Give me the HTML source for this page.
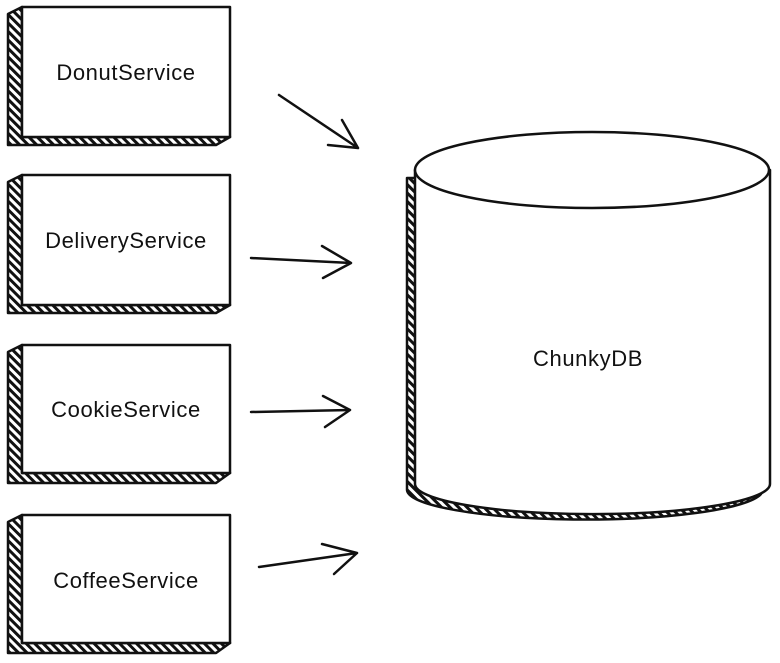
<!DOCTYPE html>
<html><head><meta charset="utf-8"><style>
html,body{margin:0;padding:0;background:#fff;}
svg{display:block;}
text{font-family:"Comic Sans MS","Liberation Sans",sans-serif;font-size:22px;letter-spacing:0.6px;fill:#111;}
</style></head><body>
<svg width="780" height="663" viewBox="0 0 780 663" xmlns="http://www.w3.org/2000/svg">
<defs>
<pattern id="h" width="6" height="6" patternUnits="userSpaceOnUse" patternTransform="rotate(-45)">
<rect width="6" height="6" fill="#fff"/><rect width="3" height="6" fill="#111"/>
</pattern>
</defs>
<g stroke="#111" stroke-width="2.5" stroke-linejoin="round">
<g>
<polygon points="22,7 8,14 8,145 216,145 230,137 22,137" fill="url(#h)"/>
<rect x="22" y="7" width="208" height="130" fill="#fff"/>
</g>
<g>
<polygon points="22,175 8,182 8,313 216,313 230,305 22,305" fill="url(#h)"/>
<rect x="22" y="175" width="208" height="130" fill="#fff"/>
</g>
<g>
<polygon points="22,345 8,352 8,483 216,483 230,473 22,473" fill="url(#h)"/>
<rect x="22" y="345" width="208" height="128" fill="#fff"/>
</g>
<g>
<polygon points="22,515 8,522 8,653 216,653 230,643 22,643" fill="url(#h)"/>
<rect x="22" y="515" width="208" height="128" fill="#fff"/>
</g>
<path d="M407,178 L407,490 A178,30 0 0 0 761,494 L761,178 Z" fill="url(#h)"/>
<path d="M415,170 L415,484 A177,30 0 0 0 770,484 L770,170 Z" fill="#fff"/>
<ellipse cx="592" cy="170" rx="177" ry="38" fill="#fff"/>
</g>
<g stroke="#111" stroke-width="2.5" fill="none" stroke-linecap="round" stroke-linejoin="round">
<path d="M279,95 L358,148 M342,120 L358,148 L328,145"/>
<path d="M251,258 L351,263 M322,246 L351,263 L323,278"/>
<path d="M251,412 L350,410 M323,396 L350,410 L325,427"/>
<path d="M259,567 L357,553 M322,544 L357,553 L334,574"/>
</g>
<text x="126" y="80" text-anchor="middle">DonutService</text>
<text x="126" y="248" text-anchor="middle">DeliveryService</text>
<text x="126" y="417" text-anchor="middle">CookieService</text>
<text x="126" y="588" text-anchor="middle">CoffeeService</text>
<text x="588" y="366" text-anchor="middle">ChunkyDB</text>
</svg>
</body></html>
